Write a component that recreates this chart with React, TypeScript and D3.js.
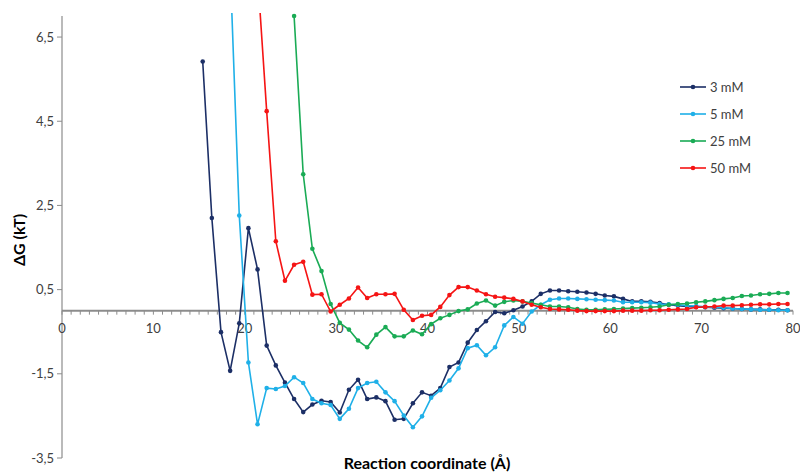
import React from "react";
import * as d3 from "d3";

const xValues = [15.4,16.4,17.4,18.4,19.4,20.4,21.4,22.4,23.4,24.4,25.4,26.4,27.4,28.4,29.4,30.4,31.4,32.4,33.4,34.4,35.4,36.4,37.4,38.4,39.4,40.4,41.4,42.4,43.4,44.4,45.4,46.4,47.4,48.4,49.4,50.4,51.4,52.4,53.4,54.4,55.4,56.4,57.4,58.4,59.4,60.4,61.4,62.4,63.4,64.4,65.4,66.4,67.4,68.4,69.4,70.4,71.4,72.4,73.4,74.4,75.4,76.4,77.4,78.4,79.4];

const mM3 = [5.92,2.20,-0.51,-1.43,-0.30,1.96,0.98,-0.83,-1.30,-1.71,-2.10,-2.41,-2.23,-2.14,-2.17,-2.42,-1.88,-1.64,-2.10,-2.06,-2.15,-2.59,-2.57,-2.20,-1.94,-2.02,-1.84,-1.34,-1.23,-0.76,-0.46,-0.25,-0.03,-0.06,0.01,0.10,0.22,0.40,0.48,0.48,0.46,0.45,0.43,0.40,0.36,0.34,0.28,0.22,0.22,0.21,0.18,0.14,0.12,0.10,0.09,0.08,0.07,0.06,0.05,0.04,0.03,0.03,0.02,0.02,0.01];

const mM5 = [null,null,null,8.2,2.26,-1.23,-2.70,-1.84,-1.86,-1.79,-1.58,-1.72,-2.10,-2.20,-2.24,-2.57,-2.33,-1.84,-1.72,-1.69,-1.94,-2.15,-2.49,-2.77,-2.51,-2.07,-1.89,-1.66,-1.37,-0.89,-0.82,-1.06,-0.87,-0.35,-0.15,-0.31,-0.02,0.14,0.26,0.29,0.29,0.28,0.27,0.26,0.25,0.24,0.20,0.20,0.20,0.19,0.16,0.15,0.14,0.12,0.11,0.09,0.08,0.07,0.05,0.04,0.03,0.02,0.02,0.01,0.01];

const mM25 = [null,null,null,null,null,null,null,null,null,null,7.0,3.24,1.47,0.94,0.16,-0.29,-0.45,-0.71,-0.87,-0.57,-0.39,-0.61,-0.61,-0.47,-0.56,-0.32,-0.18,-0.10,-0.01,0.03,0.17,0.24,0.12,0.21,0.24,0.22,0.18,0.14,0.10,0.10,0.08,0.04,0.02,0.02,0.03,0.04,0.05,0.06,0.07,0.08,0.10,0.14,0.16,0.17,0.20,0.22,0.25,0.28,0.30,0.35,0.36,0.39,0.40,0.42,0.42];

const mM50 = [null,null,null,null,null,null,8.0,4.74,1.65,0.71,1.09,1.16,0.38,0.39,-0.02,0.14,0.29,0.55,0.30,0.39,0.39,0.40,0.02,-0.22,-0.12,-0.10,0.09,0.37,0.56,0.56,0.48,0.39,0.33,0.31,0.28,0.22,0.14,0.08,0.04,0.03,0.02,0.00,-0.01,-0.01,-0.01,-0.01,0.00,0.00,0.00,0.01,0.01,0.02,0.03,0.04,0.08,0.09,0.10,0.12,0.12,0.13,0.14,0.15,0.15,0.16,0.16];

const seriesNames = ["3 mM", "5 mM", "25 mM", "50 mM"];
const seriesValues = [mM3, mM5, mM25, mM50];
const seriesColors = ["#1c2f66", "#1fb0e8", "#1aab55", "#f51414"];

const yTicks = [-3.5, -1.5, 0.5, 2.5, 4.5, 6.5];
const xTicks = [0, 10, 20, 30, 40, 50, 60, 70, 80];
const xMinorTicks = d3.range(0, 81, 1);

const W = 800;
const H = 476;
const left = 62;
const right = 793;
const top = 16;
const bottom = 458;

export default function App() {
  const x = d3.scaleLinear().domain([0, 80]).range([left, right]);
  const y = d3.scaleLinear().domain([-3.5, 7]).range([bottom, top]);
  const fmt = (v: number) => String(v).replace(".", ",");
  const font = "Lato, 'Open Sans', sans-serif";

  const lines = seriesValues.map((vals) => {
    const pts = xValues.map((xv, i) => [xv, vals[i]] as [number, number | null]);
    const gen = d3
      .line<[number, number | null]>()
      .defined((d) => d[1] !== null)
      .x((d) => x(d[0]))
      .y((d) => y(d[1] as number));
    return { path: gen(pts) || "", pts: pts.filter((d) => d[1] !== null) as [number, number][] };
  });

  return (
    <svg width={W} height={H} style={{ position: "absolute", left: 0, top: 0, background: "#fff" }}>
      <defs>
        <clipPath id="plotclip">
          <rect x={left} y={top - 3} width={right - left + 3} height={bottom - top + 3} />
        </clipPath>
      </defs>
      {/* Y axis */}
      <line x1={left} x2={left} y1={top} y2={bottom} stroke="#8c8c8c" strokeWidth={1.2} />
      {yTicks.map((t) => (
        <g key={"yt" + t}>
          <line x1={left - 5} x2={left} y1={y(t)} y2={y(t)} stroke="#8c8c8c" strokeWidth={1} />
          <text x={left - 8} y={y(t)} dy="0.35em" textAnchor="end" fontFamily={font} fontSize={13} fill="#404040">
            {fmt(t)}
          </text>
        </g>
      ))}
      {/* X axis at y=0 */}
      <line x1={left} x2={right} y1={y(0)} y2={y(0)} stroke="#8c8c8c" strokeWidth={2} />
      {xMinorTicks.map((t) => (
        <line key={"xm" + t} x1={x(t)} x2={x(t)} y1={y(0)} y2={y(0) + 4} stroke="#8c8c8c" strokeWidth={1} />
      ))}
      {xTicks.map((t) => (
        <text key={"xt" + t} x={x(t)} y={y(0) + 22} textAnchor="middle" fontFamily={font} fontSize={13} fill="#404040">
          {t}
        </text>
      ))}
      {/* Series */}
      <g clipPath="url(#plotclip)">
        {lines.map((l, si) => (
          <g key={"s" + si}>
            <path d={l.path} fill="none" stroke={seriesColors[si]} strokeWidth={1.6} />
            {l.pts.map((p, pi) => (
              <circle key={pi} cx={x(p[0])} cy={y(p[1])} r={2.3} fill={seriesColors[si]} />
            ))}
          </g>
        ))}
      </g>
      {/* Legend */}
      {seriesNames.map((n, i) => {
        const ly = 87 + i * 27;
        return (
          <g key={"lg" + i}>
            <line x1={680} x2={706} y1={ly} y2={ly} stroke={seriesColors[i]} strokeWidth={1.6} />
            <circle cx={693} cy={ly} r={2.3} fill={seriesColors[i]} />
            <text x={710} y={ly} dy="0.35em" fontFamily={font} fontSize={13} fill="#404040">
              {n}
            </text>
          </g>
        );
      })}
      {/* Axis titles */}
      <text
        transform={`translate(25, 240) rotate(-90)`}
        textAnchor="middle"
        fontFamily={font}
        fontSize={16}
        fontWeight="bold"
        fill="#000"
      >
        ΔG (kT)
      </text>
      <text x={427} y={469} textAnchor="middle" fontFamily={font} fontSize={16} fontWeight="bold" fill="#000">
        Reaction coordinate (Å)
      </text>
    </svg>
  );
}
